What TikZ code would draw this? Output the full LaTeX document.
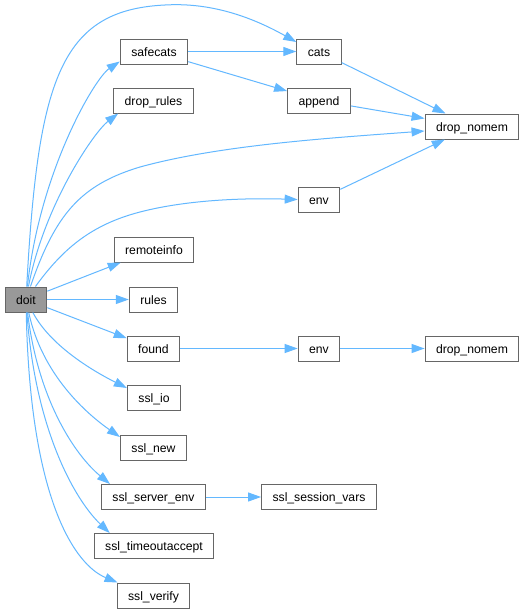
\documentclass[tikz,border=0pt]{standalone}
\usepackage{fontspec}
\setmainfont{Liberation Sans}
\usetikzlibrary{arrows.meta}
\definecolor{cedge}{HTML}{63B8FF}
\definecolor{cframe}{HTML}{666666}
\definecolor{cgrey}{HTML}{999999}
\tikzset{
  every picture/.style={line width=1pt},
  fn/.style={draw=cframe, fill=#1, text=black, inner xsep=11pt, inner ysep=0pt, text height=9pt, text depth=0pt, minimum height=25pt, font=\fontsize{12.2}{14}\selectfont},
  fn/.default=white,
  call/.style={-{Triangle[length=13pt, width=9pt]}, draw=cedge, line width=1pt},
}

\begin{document}
\begin{tikzpicture}[x=1pt, y=-1pt]
  \fill[white] (0,0) rectangle (525,613);
  \useasboundingbox (0,0) rectangle (525,613);
  \node[fn=cgrey] (doit) at (26,299.5) {doit};
  \node[fn] (safecats) at (154,51.5) {safecats};
  \node[fn] (droprules) at (153.5,100.5) {drop\_rules};
  \node[fn] (cats) at (319,51.5) {cats};
  \node[fn] (append) at (319,100.5) {append};
  \node[fn] (nomemA) at (472,126.5) {drop\_nomem};
  \node[fn] (envA) at (319,199.5) {env};
  \node[fn] (remoteinfo) at (154,249.5) {remoteinfo};
  \node[fn] (rules) at (153.5,299.5) {rules};
  \node[fn] (found) at (153.5,348.5) {found};
  \node[fn] (envB) at (319,348.5) {env};
  \node[fn] (nomemB) at (472,348.5) {drop\_nomem};
  \node[fn] (sslio) at (154,397.5) {ssl\_io};
  \node[fn] (sslnew) at (153.5,447.5) {ssl\_new};
  \node[fn] (sslsrv) at (153.5,497) {ssl\_server\_env};
  \node[fn] (sslsess) at (319,497) {ssl\_session\_vars};
  \node[fn] (ssltmo) at (154,546) {ssl\_timeoutaccept};
  \node[fn] (sslver) at (153.5,595.5) {ssl\_verify};
  \draw[call] (doit) .. controls (38,80) and (60,10) .. (165,5) .. controls (215,2) and (257,20) .. ([yshift=9.5pt]cats.west);
  \draw[call] (doit) .. controls (40,170) and (95,78) .. ([yshift=-10pt]safecats.west);
  \draw[call] (doit) .. controls (44,205) and (94,132) .. ([xshift=5pt]droprules.south west);
  \draw[call] (doit) .. controls (55,215) and (80,185) .. (140,167) .. controls (220,145) and (330,138) .. ([yshift=-4.5pt]nomemA.west);
  \draw[call] (doit) .. controls (62,250) and (90,225) .. (140,212) .. controls (190,199) and (250,198) .. (envA.west);
  \foreach \v in {remoteinfo,rules,found} \draw[call] (doit) -- (\v);
  \draw[call] (doit) .. controls (50,345) and (91,370) .. ([yshift=9.5pt]sslio.west);
  \draw[call] (doit) .. controls (42,375) and (87,414) .. ([yshift=10.5pt]sslnew.west);
  \draw[call] (doit) .. controls (38,400) and (75,455) .. ([xshift=9pt]sslsrv.north west);
  \draw[call] (doit) .. controls (35,430) and (75,500) .. ([xshift=16pt]ssltmo.north west);
  \draw[call] (doit) .. controls (30,500) and (75,565) .. ([xshift=1pt]sslver.north west);
  \foreach \u/\v in {safecats/cats,safecats/append,cats/nomemA,append/nomemA,envA/nomemA,found/envB,envB/nomemB,sslsrv/sslsess} \draw[call] (\u) -- (\v);
\end{tikzpicture}
\end{document}
